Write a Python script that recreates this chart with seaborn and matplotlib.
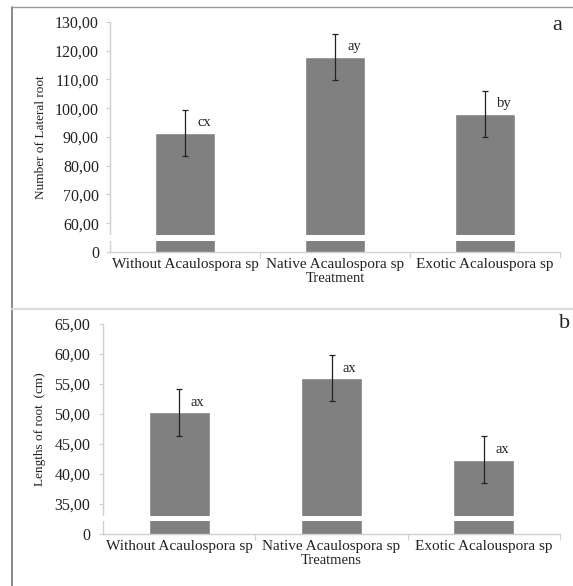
import numpy as np
import matplotlib
matplotlib.use("Agg")
import matplotlib.pyplot as plt
import seaborn as sns
from matplotlib.lines import Line2D

# data
treatments = ["Without Acaulospora sp", "Native Acaulospora sp", "Exotic Acalouspora sp"]
lateral_root = [91.3, 117.7, 98.0]
lateral_err = [8.0, 8.0, 8.0]
lateral_letters = ["cx", "ay", "by"]
root_length = [50.3, 56.0, 42.4]
length_err = [3.9, 3.9, 3.95]
length_letters = ["ax", "ax", "ax"]

lat_ticks = [50, 60, 70, 80, 90, 100, 110, 120, 130]
lat_ticklabels = ["0", "60,00", "70,00", "80,00", "90,00", "100,00", "110,00", "120,00", "130,00"]
len_ticks = [30, 35, 40, 45, 50, 55, 60, 65]
len_ticklabels = ["0", "35,00", "40,00", "45,00", "50,00", "55,00", "60,00", "65,00"]

sns.set_style("white")
plt.rcParams["font.family"] = ["Liberation Serif", "DejaVu Serif"]

BAR = "#808080"
AXIS = "#d0d0d0"

fig = plt.figure(figsize=(5.73, 5.86), dpi=100)
ax_a = fig.add_axes([110 / 573, 1 - 252 / 586, 450 / 573, 230 / 586])
ax_b = fig.add_axes([103 / 573, 1 - 534 / 586, 457 / 573, 210 / 586])


def draw_panel(ax, values, errs, letters, ticks, ticklabels, ylabel, xlabel,
               brk, ylab_x, ypad, txt_off):
    sns.barplot(x=treatments, y=values, color=BAR, saturation=1, width=0.4,
                ax=ax, zorder=2)
    ax.errorbar(range(len(values)), values, yerr=errs, fmt="none",
                ecolor="#222222", elinewidth=0.9, capsize=2.5, capthick=0.9,
                zorder=4)
    for i, (v, e, lab) in enumerate(zip(values, errs, letters)):
        ax.annotate(lab, xy=(i, v + e), xytext=txt_off, textcoords="offset points",
                    ha="center", va="center", fontsize=10.5, color="#222222")
    ax.set_ylim(ticks[0], ticks[-1])
    ax.set_xlim(-0.5, 2.5)
    ax.set_yticks(ticks)
    ax.set_yticklabels(ticklabels)
    ax.tick_params(axis="y", length=3, width=0.8, color=AXIS, pad=ypad,
                   labelsize=11.5, labelcolor="#222222", left=True)
    ax.set_xticks(range(3))
    ax.set_xticklabels(treatments)
    ax.tick_params(axis="x", length=0, pad=4, labelsize=11, labelcolor="#222222")
    ax.set_xticks([0.5, 1.5, 2.5], minor=True)
    ax.tick_params(axis="x", which="minor", length=4, width=0.8, color=AXIS,
                   bottom=True)
    for s in ["top", "right"]:
        ax.spines[s].set_visible(False)
    for s in ["left", "bottom"]:
        ax.spines[s].set_color(AXIS)
        ax.spines[s].set_linewidth(1.0)
    ax.set_ylabel(ylabel, fontsize=9.5, color="#222222")
    ax.yaxis.set_label_coords(ylab_x, 0.5)
    ax.set_xlabel(xlabel, fontsize=10.5, color="#222222", labelpad=1)
    # axis break
    ax.axhspan(brk[0], brk[1], xmin=-0.005, xmax=1, color="white", zorder=5,
               clip_on=False, lw=0)
    ax.grid(False)


draw_panel(ax_a, lateral_root, lateral_err, lateral_letters, lat_ticks,
           lat_ticklabels, "Number of Lateral root", "Treatment",
           (54.0, 55.8), -0.14, 5, (14, -9))
draw_panel(ax_b, root_length, length_err, length_letters, len_ticks,
           len_ticklabels, "Lengths of root  (cm)", "Treatmens",
           (32.2, 33.0), -0.125, 6, (13, -10))

fig.text(557 / 573, 1 - 25 / 586, "a", fontsize=16, ha="center", va="center",
         color="#222222")
fig.text(565 / 573, 1 - 323 / 586, "b", fontsize=16, ha="center", va="center",
         color="#222222")

# panel frames
x0 = 12 / 573
ytop = 1 - 7 / 586
fig.add_artist(Line2D([x0, x0], [0, ytop], color="#808080", lw=1.3))
fig.add_artist(Line2D([x0, 1], [ytop, ytop], color="#999999", lw=1.0))
fig.add_artist(Line2D([x0, 1], [1 - 309 / 586] * 2, color="#d9d9d9", lw=1.6))

fig.savefig("out.png", dpi=100)
